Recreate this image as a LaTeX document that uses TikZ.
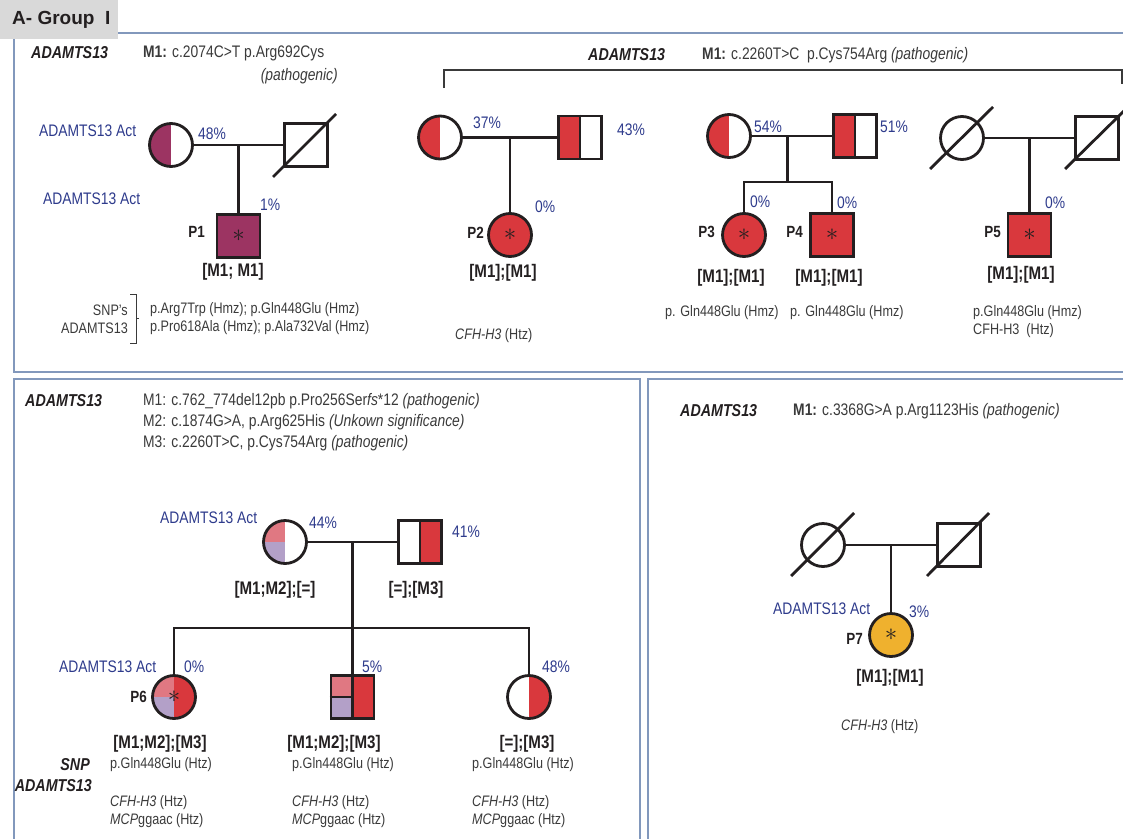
\documentclass[tikz,border=0pt]{standalone}
\usepackage{fontspec}
\setmainfont{Liberation Sans}[FakeStretch=0.83]
\newfontfamily\hdrfont{Liberation Sans}
\usetikzlibrary{calc}
\definecolor{ink}{HTML}{231F20}
\definecolor{dkgray}{HTML}{3A3A3A}
\definecolor{navy}{HTML}{2E3B8C}
\definecolor{maroon}{HTML}{9C3462}
\definecolor{pedred}{HTML}{D9383D}
\definecolor{pink}{HTML}{E07882}
\definecolor{lav}{HTML}{B3A0C8}
\definecolor{gold}{HTML}{EFB12E}
\definecolor{frame}{HTML}{8298BC}
\definecolor{hdrgray}{HTML}{D9D9D9}

\begin{document}
\begin{tikzpicture}[
  x=1pt, y=-1pt,
  female/.style={circle, draw=ink, line width=2.8pt, minimum size=43pt,
    inner sep=0pt, text=ink, font=\fontsize{26}{26}\selectfont},
  male/.style={rectangle, draw=ink, line width=2.8pt, minimum size=43pt,
    inner sep=0pt, text=ink, font=\fontsize{26}{26}\selectfont},
  halves/.style 2 args={path picture={
    \fill[#1] (path picture bounding box.south west) rectangle (path picture bounding box.north);
    \fill[#2] (path picture bounding box.south) rectangle (path picture bounding box.north east);}},
  quads/.style n args={3}{path picture={
    \fill[#1] (path picture bounding box.west) rectangle (path picture bounding box.north);
    \fill[#2] (path picture bounding box.south west) rectangle (path picture bounding box.center);
    \fill[#3] (path picture bounding box.south) rectangle (path picture bounding box.north east);}},
  ped/.style={draw=ink, line width=2.8pt},
  panel/.style={draw=frame, line width=1.3pt},
  hdr/.style={font=\hdrfont\fontsize{19}{20}\selectfont\bfseries, text=ink, inner sep=0pt},
  txt/.style={font=\fontsize{15.2}{18}\selectfont, text=dkgray, inner sep=0pt},
  mut/.style={font=\fontsize{16.7}{21}\selectfont, text=dkgray, inner sep=0pt},
  gene/.style={font=\fontsize{17.2}{20}\selectfont\bfseries\itshape, text=ink, inner sep=0pt},
  act/.style={font=\fontsize{16.7}{18}\selectfont, text=navy, inner sep=0pt},
  pid/.style={font=\fontsize{16.2}{18}\selectfont\bfseries, text=ink, inner sep=0pt},
  geno/.style={font=\fontsize{18.2}{20}\selectfont\bfseries, text=ink, inner sep=0pt},
]
\useasboundingbox (0,0) rectangle (1123,838);

% Panels and title
\draw[panel] (1130,33) -- (14,33) -- (14,372) -- (1130,372);
\draw[panel] (14,379) rectangle (640,850);
\draw[panel] (648,379) rectangle (1130,850);
\fill[hdrgray] (0,0) rectangle (118,39);
\node[hdr, anchor=west] (title) at (12,20) {A- Group\ \ I};

% =============================================
% Family 1 (P1)
% =============================================
\node[gene, anchor=west] (gene1) at (31,53) {ADAMTS13};
\node[mut, anchor=west] (mut1) at (143,53) {\textbf{M1:} c.2074C>T p.Arg692Cys};
\node[mut, anchor=east] (path1) at (338,76) {\textit{(pathogenic)}};

\node[female, halves={maroon}{white}] (m1) at (171,145) {};
\node[male] (f1) at (306,145) {};
\draw[ped] ([shift={(-33,32)}]f1.center) -- ([shift={(30,-31)}]f1.center);
\node[male, fill=maroon] (p1) at (238.5,236) {$\ast$};
\draw[ped] (m1) -- coordinate (u1) (f1);
\draw[ped] (u1) -- (u1 |- p1.north);

\node[act, anchor=west] (m1act) at (39,131) {ADAMTS13 Act};
\node[act, anchor=west] (m1pct) at (198,134) {48\%};
\node[act, anchor=west] (p1act) at (43,199) {ADAMTS13 Act};
\node[act, anchor=west] (p1pct) at (260,205) {1\%};
\node[pid, anchor=east] (p1id) at (205,232) {P1};
\node[geno] (p1gen) at (233,272) {[M1; M1]};

\node[txt, anchor=east] (snp1a) at (128,310) {SNP's};
\node[txt, anchor=east] (snp1b) at (128,328) {ADAMTS13};
\draw[dkgray, line width=1pt] (130,294) -- (136,294) -- (136,343) -- (130,343);
\draw[dkgray, line width=1pt] (136,318) -- (139,318);
\node[txt, anchor=west] (snp1c) at (150,310) {p.Arg7Trp (Hmz); p.Gln448Glu (Hmz)};
\node[txt, anchor=west] (snp1d) at (150,328) {p.Pro618Ala (Hmz); p.Ala732Val (Hmz)};

% =============================================
% Families 2-4 (P2 to P5), shared mutation
% =============================================
\node[gene, anchor=west] (gene2) at (588,55) {ADAMTS13};
\node[mut, anchor=west] (mut2) at (702,55)
  {\textbf{M1:} c.2260T>C\ \ p.Cys754Arg \textit{(pathogenic)}};
\draw[dkgray, line width=1.3pt] (444,88) -- (444,70) -- (1122,70) -- (1122,84);

% P2
\node[female, halves={pedred}{white}] (m2) at (440,137.5) {};
\node[male, halves={pedred}{white}] (f2) at (580,137.5) {};
\draw[ped] (f2.north) -- (f2.south);
\node[female, fill=pedred] (p2) at (510,235) {$\ast$};
\draw[ped] (m2) -- coordinate (u2) (f2);
\draw[ped] (u2) -- (u2 |- p2.north);

\node[act, anchor=west] (m2pct) at (473,123) {37\%};
\node[act, anchor=west] (f2pct) at (617,130) {43\%};
\node[act, anchor=west] (p2pct) at (535,207) {0\%};
\node[pid, anchor=east] (p2id) at (484,233) {P2};
\node[geno] (p2gen) at (503,273) {[M1];[M1]};
\node[txt, anchor=west] (p2snp) at (455,336) {\textit{CFH-H3} (Htz)};

% P3 and P4
\node[female, halves={pedred}{white}] (m3) at (729,136) {};
\node[male, halves={pedred}{white}] (f3) at (855,136) {};
\draw[ped] (f3.north) -- (f3.south);
\node[female, fill=pedred] (p3) at (744,235) {$\ast$};
\node[male, fill=pedred] (p4) at (832,235) {$\ast$};
\draw[ped] (m3) -- coordinate[pos=0.44] (u3) (f3);
\coordinate (s3) at ($(u3)+(0,46)$);
\draw[ped] (u3) -- (s3);
\draw[ped] (p3.north) |- (s3) -| (p4.north);

\node[act, anchor=west] (m3pct) at (754,127) {54\%};
\node[act, anchor=west] (f3pct) at (880,127) {51\%};
\node[act, anchor=west] (p3pct) at (750,202) {0\%};
\node[act, anchor=west] (p4pct) at (837,203) {0\%};
\node[pid, anchor=east] (p3id) at (715,232) {P3};
\node[pid, anchor=east] (p4id) at (803,232) {P4};
\node[geno] (p3gen) at (731,278) {[M1];[M1]};
\node[geno] (p4gen) at (829,278) {[M1];[M1]};
\node[txt, anchor=west] (p3snp) at (665,313) {p. Gln448Glu (Hmz)};
\node[txt, anchor=west] (p4snp) at (790,313) {p. Gln448Glu (Hmz)};

% P5
\node[female] (m5) at (962,138) {};
\node[male] (f5) at (1097,138) {};
\draw[ped] ([shift={(-32,31)}]m5.center) -- ([shift={(31,-31)}]m5.center);
\draw[ped] ([shift={(-32,31)}]f5.center) -- ([shift={(31,-31)}]f5.center);
\node[male, fill=pedred] (p5) at (1029.5,235) {$\ast$};
\draw[ped] (m5) -- coordinate (u5) (f5);
\draw[ped] (u5) -- (u5 |- p5.north);

\node[act, anchor=west] (p5pct) at (1045,203) {0\%};
\node[pid, anchor=east] (p5id) at (1001,232) {P5};
\node[geno] (p5gen) at (1021,275) {[M1];[M1]};
\node[txt, anchor=west] (p5snp) at (973,313) {p.Gln448Glu (Hmz)};
\node[txt, anchor=west] (p5cfh) at (973,331) {CFH-H3\ \ (Htz)};

% =============================================
% Family 5 (P6)
% =============================================
\node[gene, anchor=west] (gene6) at (25,401) {ADAMTS13};
\node[mut, anchor=west] (mut6a) at (143,401)
  {M1: c.762\_774del12pb p.Pro256Ser\textit{fs}*12 \textit{(pathogenic)}};
\node[mut, anchor=west] (mut6b) at (143,422)
  {M2: c.1874G>A, p.Arg625His \textit{(Unkown significance)}};
\node[mut, anchor=west] (mut6c) at (143,443)
  {M3: c.2260T>C, p.Cys754Arg \textit{(pathogenic)}};

\node[female, quads={pink}{lav}{white}] (m6) at (285,542) {};
\node[male, halves={white}{pedred}] (f6) at (420,542) {};
\draw[ped] (f6.north) -- (f6.south);
\draw[ped] (m6) -- coordinate (u6) (f6);
\coordinate (s6) at ($(u6)+(0,86)$);

\node[female, quads={pink}{lav}{pedred}] (p6) at (174,697) {$\ast$};
\node[male, quads={pink}{lav}{pedred}] (c62) at (352.5,697) {};
\draw[ped] (c62.north) -- (c62.south);
\draw[ped] (c62.west) -- (c62.center);
\node[female, halves={white}{pedred}] (c63) at (529,697) {};
\draw[ped] (u6) -- (s6);
\draw[ped] (p6.north) |- (s6) -| (c63.north);
\draw[ped] (s6) -- (s6 |- c62.north);

\node[act, anchor=west] (m6act) at (160,518) {ADAMTS13 Act};
\node[act, anchor=west] (m6pct) at (309,523) {44\%};
\node[act, anchor=west] (f6pct) at (452,532) {41\%};
\node[geno] (m6gen) at (275,590) {[M1;M2];[=]};
\node[geno] (f6gen) at (416,590) {[=];[M3]};

\node[act, anchor=west] (p6act) at (59,667) {ADAMTS13 Act};
\node[act, anchor=west] (p6pct) at (184,667) {0\%};
\node[act, anchor=west] (c62pct) at (362,667) {5\%};
\node[act, anchor=west] (c63pct) at (542,667) {48\%};
\node[pid, anchor=east] (p6id) at (147,697) {P6};
\node[geno] (p6gen) at (160,744) {[M1;M2];[M3]};
\node[geno] (c62gen) at (334,744) {[M1;M2];[M3]};
\node[geno] (c63gen) at (527,744) {[=];[M3]};

\node[gene, anchor=east] (snp6a) at (90,765) {SNP};
\node[gene, anchor=east] (snp6b) at (92,786) {ADAMTS13};
\node[txt, anchor=west] (p6snp) at (110,765) {p.Gln448Glu (Htz)};
\node[txt, anchor=west] (c62snp) at (292,765) {p.Gln448Glu (Htz)};
\node[txt, anchor=west] (c63snp) at (472,765) {p.Gln448Glu (Htz)};
\node[txt, anchor=west] (p6cfh) at (110,803) {\textit{CFH-H3} (Htz)};
\node[txt, anchor=west] (c62cfh) at (292,803) {\textit{CFH-H3} (Htz)};
\node[txt, anchor=west] (c63cfh) at (472,803) {\textit{CFH-H3} (Htz)};
\node[txt, anchor=west] (p6mcp) at (110,821) {\textit{MCP}ggaac (Htz)};
\node[txt, anchor=west] (c62mcp) at (292,821) {\textit{MCP}ggaac (Htz)};
\node[txt, anchor=west] (c63mcp) at (472,821) {\textit{MCP}ggaac (Htz)};

% =============================================
% Family 6 (P7)
% =============================================
\node[gene, anchor=west] (gene7) at (680,411) {ADAMTS13};
\node[mut, anchor=west] (mut7) at (793,411)
  {\textbf{M1:} c.3368G>A p.Arg1123His \textit{(pathogenic)}};

\node[female] (m7) at (823,545) {};
\node[male] (f7) at (959,545) {};
\draw[ped] ([shift={(-32,31)}]m7.center) -- ([shift={(31,-32)}]m7.center);
\draw[ped] ([shift={(-32,31)}]f7.center) -- ([shift={(30,-32)}]f7.center);
\node[female, fill=gold] (p7) at (891,635) {$\ast$};
\draw[ped] (m7) -- coordinate (u7) (f7);
\draw[ped] (u7) -- (u7 |- p7.north);

\node[act, anchor=west] (p7act) at (773,609) {ADAMTS13 Act};
\node[act, anchor=west] (p7pct) at (909,612) {3\%};
\node[pid, anchor=east] (p7id) at (863,639) {P7};
\node[geno] (p7gen) at (890,678) {[M1];[M1]};
\node[txt, anchor=west] (p7snp) at (841,727) {\textit{CFH-H3} (Htz)};

\end{tikzpicture}
\end{document}
